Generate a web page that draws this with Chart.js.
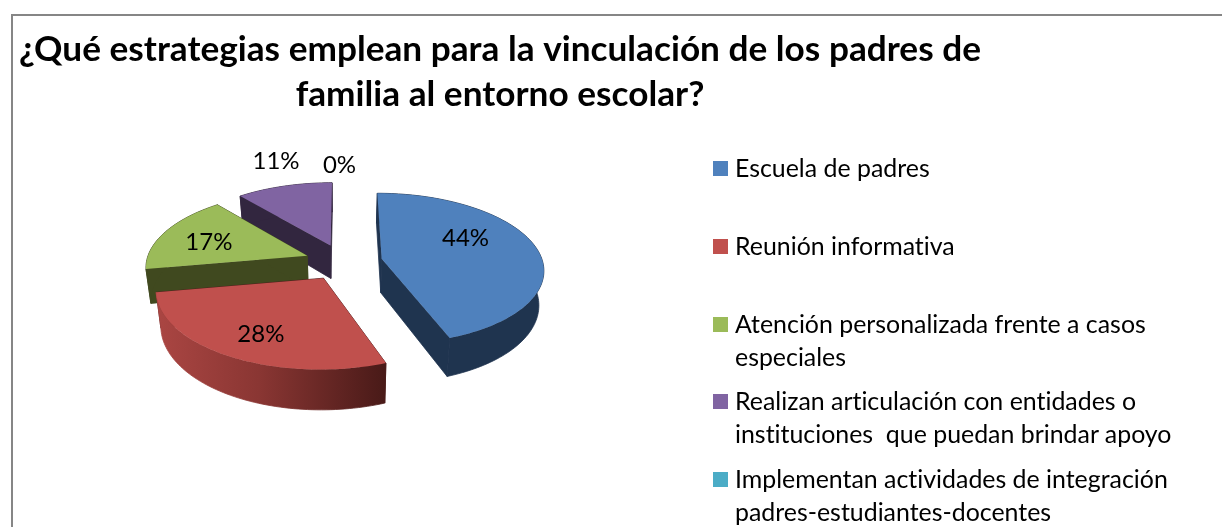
<!DOCTYPE html>
<html>
<head>
<meta charset="utf-8">
<script src="https://cdn.jsdelivr.net/npm/chart.js@4"></script>
<style>
  html, body { margin: 0; padding: 0; background: #fff; overflow: hidden; }
  #wrap { position: relative; width: 1222px; height: 527px; overflow: hidden; }
  #frame { position: absolute; left: 11px; top: 14px; width: 1300px; height: 600px; border: 2px solid #868686; }
  #pie { position: absolute; left: 0; top: 0; }
  #legend { position: absolute; left: 713px; top: 0; margin: 0; padding: 0; list-style: none;
    font: 24.9px/33px Lato, sans-serif; font-variant-ligatures: none; color: #000; }
  #legend li { position: absolute; left: 0; width: 490px; }
  #legend i { position: absolute; left: 0; top: 10px; width: 15px; height: 15px; }
  #legend span { display: block; padding-left: 22px; white-space: pre; }
</style>
</head>
<body>
<div id="wrap">
  <div id="frame"></div>
  <canvas id="pie" width="1222" height="527"></canvas>
  <ul id="legend"></ul>
</div>
<script>
const titleLines = [
  "¿Qué estrategias emplean para la vinculación de los padres de",
  "familia al entorno escolar?",
];
const categories = [
  ["Escuela de padres"],
  ["Reunión informativa"],
  ["Atención personalizada frente a casos", "especiales"],
  ["Realizan articulación con entidades o", "instituciones  que puedan brindar apoyo"],
  ["Implementan actividades de integración", "padres-estudiantes-docentes"],
];
const values = [44.4, 27.8, 16.7, 11.1, 0];
const topColors = ["#4F81BD", "#C0504D", "#9BBB59", "#8064A2", "#4BACC6"];
const sideColors = ["#1F344F", "#4E1B1A", "#40491F", "#32263F", "#1D4652"];

// the 3d look: chart.js gives the arcs, this maps them on a tilted plane
const view = { x: 343.5, y: 262, radius: 161, explode: 39, squash: 0.465, persp: 0.13, depth: 34 };
const drawOrder = [3, 2, 0, 1, 4];
const labelShift = [[-12, -13], [-6, 10], [-9, 2], [0, -14], [-4, -6]];

function project(dx, dy, down) {
  const s = 1 / (1 - (view.persp * dy) / view.radius);
  const inward = down ? 0.975 : 1;
  return {
    x: view.x + dx * s * inward,
    y: view.y + view.squash * dy * s + (down ? view.depth * s : 0),
  };
}

function arcOutline(arc) {
  const { startAngle, endAngle } = arc.getProps(["startAngle", "endAngle"]);
  const mid = (startAngle + endAngle) / 2;
  const ox = Math.cos(mid) * view.explode;
  const oy = Math.sin(mid) * view.explode;
  const rim = [];
  const steps = Math.max(2, Math.ceil((endAngle - startAngle) * 40));
  for (let i = 0; i <= steps; i++) {
    const a = startAngle + ((endAngle - startAngle) * i) / steps;
    rim.push([ox + Math.cos(a) * view.radius, oy + Math.sin(a) * view.radius]);
  }
  return { apex: [ox, oy], rim };
}

function fillPoly(ctx, pts, color, seam) {
  ctx.beginPath();
  pts.forEach((p, i) => (i ? ctx.lineTo(p.x, p.y) : ctx.moveTo(p.x, p.y)));
  ctx.closePath();
  ctx.fillStyle = color;
  ctx.fill();
  if (seam) {
    // closes the hairline between wall pieces
    ctx.strokeStyle = color;
    ctx.lineWidth = 0.8;
    ctx.stroke();
  }
}

function wallPoly(ctx, line, color) {
  const top = line.map((p) => project(p[0], p[1], false));
  const bottom = line.map((p) => project(p[0], p[1], true)).reverse();
  fillPoly(ctx, top.concat(bottom), color, true);
}

function redWallFill(ctx) {
  const g = ctx.createLinearGradient(155, 0, 385, 0);
  g.addColorStop(0, "#AB4643");
  g.addColorStop(0.45, "#8A3633");
  g.addColorStop(1, "#491A18");
  return g;
}

const pie3d = {
  id: "pie3d",
  beforeDraw(chart) {
    // keeps Lato from joining "ti" into a ligature
    chart.ctx.letterSpacing = "0.01px";
  },
  beforeDatasetsDraw(chart) {
    const ctx = chart.ctx;
    const arcs = chart.getDatasetMeta(0).data;
    drawOrder.forEach((i) => {
      if (!values[i]) return;
      const { apex, rim } = arcOutline(arcs[i]);
      wallPoly(ctx, [apex, rim[0]], sideColors[i]);
      wallPoly(ctx, [apex, rim[rim.length - 1]], sideColors[i]);
      wallPoly(ctx, rim, i === 1 ? redWallFill(ctx) : sideColors[i]);
      fillPoly(ctx, [apex, ...rim].map((p) => project(p[0], p[1], false)), topColors[i]);
    });
    return false;
  },
  afterDraw(chart) {
    const ctx = chart.ctx;
    const arcs = chart.getDatasetMeta(0).data;
    ctx.save();
    ctx.font = "24px Lato, sans-serif";
    ctx.fillStyle = "#000";
    ctx.textAlign = "center";
    ctx.textBaseline = "middle";
    arcs.forEach((arc, i) => {
      const { startAngle, endAngle } = arc.getProps(["startAngle", "endAngle"]);
      const mid = (startAngle + endAngle) / 2;
      // first three sit on the slice, the small ones outside of it
      const r = view.explode + view.radius * (i < 3 ? 0.62 : 1.2);
      const p = project(Math.cos(mid) * r, Math.sin(mid) * r, false);
      ctx.fillText(Math.round(values[i]) + "%", p.x + labelShift[i][0], p.y + labelShift[i][1]);
    });
    ctx.restore();
  },
};

const chart = new Chart(document.getElementById("pie"), {
  type: "pie",
  data: {
    labels: categories.map((c) => c.join(" ")),
    datasets: [{ data: values, backgroundColor: topColors, borderWidth: 0 }],
  },
  options: {
    responsive: false,
    animation: false,
    layout: { padding: { top: 27, right: 222 } },
    plugins: {
      legend: { display: false },
      tooltip: { enabled: false },
      title: {
        display: true,
        text: titleLines,
        color: "#000",
        font: { family: "Lato, sans-serif", size: 35.2, weight: "bold", lineHeight: 1.29 },
        padding: 0,
      },
    },
  },
  plugins: [pie3d],
});

const legendTops = [151, 229, 307, 384, 462];
const legendEl = document.getElementById("legend");
categories.forEach((lines, i) => {
  const li = document.createElement("li");
  li.style.top = legendTops[i] + "px";
  const box = document.createElement("i");
  box.style.background = topColors[i];
  const span = document.createElement("span");
  span.textContent = lines.join("\n");
  li.append(box, span);
  legendEl.appendChild(li);
});
</script>
</body>
</html>
